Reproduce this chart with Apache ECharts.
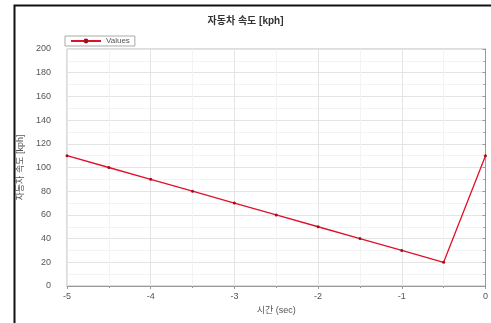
<!DOCTYPE html>
<html><head><meta charset="utf-8">
<script src="https://cdn.jsdelivr.net/npm/echarts@6/dist/echarts.min.js"></script>
<style>html,body{margin:0;padding:0;background:#fff}#c{width:491px;height:323px}</style>
</head><body><div id="c"></div>
<script>
const timeSec = [-5, -4.5, -4, -3.5, -3, -2.5, -2, -1.5, -1, -0.5, 0];
const speedKph = [110, 100, 90, 80, 70, 60, 50, 40, 30, 20, 110];
const titleText = '자동차 속도 [kph]';
const xName = '시간 (sec)';
const yName = '자동차 속도 [kph]';
const seriesName = 'Values';

const font = '"Liberation Sans", "Noto Sans CJK KR", sans-serif';
const chart = echarts.init(document.getElementById('c'));
chart.setOption({
  animation: false,
  textStyle: {fontFamily: font},
  graphic: [{type: 'rect', left: 12, top: 3, shape: {width: 520, height: 360}, style: {fill: 'none', stroke: '#111', lineWidth: 2}, silent: true}],
  title: {text: titleText, left: 'center', top: 11, textStyle: {fontSize: 10, fontWeight: 'bold', color: '#333', fontFamily: font}},
  legend: {left: 65, top: 36, padding: [1, 5], borderColor: '#aaa', borderWidth: 1, itemWidth: 30, itemHeight: 6, itemGap: 4,
    textStyle: {fontSize: 8, color: '#555', fontFamily: font}, data: [seriesName]},
  grid: {left: 67, right: 3, top: 49, bottom: 37, show: true, borderColor: '#bbb', borderWidth: 1},
  xAxis: {type: 'value', min: -5, max: 0, interval: 1, name: xName, nameLocation: 'middle', nameGap: 20,
    nameTextStyle: {fontSize: 9, color: '#555'},
    axisLine: {lineStyle: {color: '#999'}}, axisTick: {show: true, length: 3, lineStyle: {color: '#999'}},
    minorTick: {show: true, splitNumber: 2, length: 2, lineStyle: {color: '#999'}},
    axisLabel: {fontSize: 9, color: '#555', margin: 6},
    splitLine: {lineStyle: {color: '#e4e4e4'}}, minorSplitLine: {show: true, lineStyle: {color: '#f3f3f3'}}},
  yAxis: {type: 'value', min: 0, max: 200, interval: 20, name: yName, nameLocation: 'middle', nameGap: 39, nameRotate: 90,
    nameTextStyle: {fontSize: 9, color: '#555'},
    axisLine: {show: true, lineStyle: {color: '#999'}}, axisTick: {show: true, length: 3, lineStyle: {color: '#999'}},
    minorTick: {show: true, splitNumber: 2, length: 2, lineStyle: {color: '#999'}},
    axisLabel: {fontSize: 9, color: '#555', margin: 16},
    splitLine: {lineStyle: {color: '#e4e4e4'}}, minorSplitLine: {show: true, lineStyle: {color: '#f3f3f3'}}},
  series: [{name: seriesName, type: 'line', data: timeSec.map((t, i) => [t, speedKph[i]]),
    symbol: 'circle', symbolSize: 3, color: '#e0102a', lineStyle: {width: 1.3, color: '#e0102a'},
    itemStyle: {color: '#a0101a'}}]
});
</script></body></html>
